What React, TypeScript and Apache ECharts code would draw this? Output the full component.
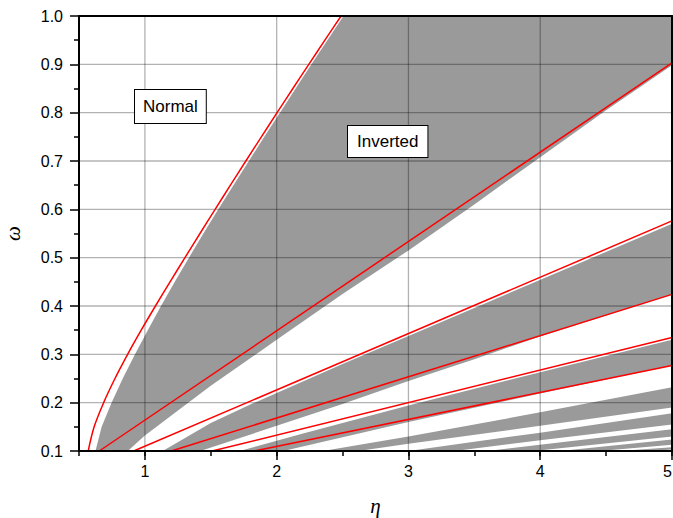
import React, { useEffect, useRef } from "react";
import * as echarts from "echarts";

// Axis ranges and ticks
const X_MIN = 0.5;
const X_MAX = 5;
const Y_MIN = 0.1;
const Y_MAX = 1.0;
const xMajorTicks = [1, 2, 3, 4, 5];
const xGridValues = [1, 2, 3, 4];
const yGridValues = [0.2, 0.3, 0.4, 0.5, 0.6, 0.7, 0.8, 0.9];

// Red boundary curves [eta, omega]
const redCurve1 = [
  [0.57, 0.1], [0.615, 0.15], [0.687, 0.2], [0.773, 0.25], [0.869, 0.3], [0.972, 0.35],
  [1.08, 0.4], [1.191, 0.45], [1.304, 0.5], [1.418, 0.55], [1.533, 0.6], [1.649, 0.65],
  [1.766, 0.7], [1.884, 0.75], [2.003, 0.8], [2.123, 0.85], [2.244, 0.9], [2.366, 0.95], [2.489, 1.0],
];
const redLine2 = [[0.654, 0.1], [5, 0.903]];
const redLine3 = [[0.915, 0.1], [5, 0.576]];
const redLine4 = [[1.2, 0.1], [5, 0.424]];
const redLine5 = [[1.51, 0.1], [5, 0.335]];
const redLine6 = [[1.83, 0.1], [5, 0.277]];

// Gray (inverted-stable) bands: upper edge and lower edge
const band1Upper = [
  [0.625, 0.1], [0.672, 0.15], [0.747, 0.2], [0.832, 0.25], [0.925, 0.3], [1.022, 0.35],
  [1.122, 0.4], [1.227, 0.45], [1.334, 0.5], [1.444, 0.55], [1.557, 0.6], [1.672, 0.65],
  [1.789, 0.7], [1.906, 0.75], [2.025, 0.8], [2.144, 0.85], [2.264, 0.9], [2.385, 0.95],
  [2.507, 1.0], [5, 1.0],
];
const band1Lower = [
  [0.87, 0.1], [1.0, 0.132], [1.5, 0.235], [2.0, 0.33], [2.5, 0.425], [3.0, 0.515],
  [3.5, 0.61], [4.0, 0.708], [4.5, 0.805], [5, 0.898],
];
const band2Upper = [[1.135, 0.1], [1.5, 0.158], [1.8, 0.196], [2.5, 0.28], [3.5, 0.396], [5, 0.57]];
const band2Lower = [[1.42, 0.1], [2.0, 0.152], [2.5, 0.197], [3.0, 0.245], [3.5, 0.29], [4.0, 0.337], [5, 0.424]];
const band3Upper = [[1.72, 0.1], [2.2, 0.136], [3.0, 0.194], [4.0, 0.263], [5, 0.33]];
const band3Lower = [[2.05, 0.1], [3.0, 0.16], [4.0, 0.219], [5, 0.277]];
const band4Upper = [[2.35, 0.1], [3.0, 0.13], [4.0, 0.18], [5, 0.232]];
const band4Lower = [[2.62, 0.1], [3.0, 0.115], [4.0, 0.152], [5, 0.19]];
const band5Upper = [[3.0, 0.1], [4.0, 0.138], [5, 0.178]];
const band5Lower = [[3.35, 0.1], [4.0, 0.122], [5, 0.155]];
const band6Upper = [[3.6, 0.1], [5, 0.145]];
const band6Lower = [[3.95, 0.1], [5, 0.13]];
const band7Upper = [[4.15, 0.1], [5, 0.124]];
const band7Lower = [[4.45, 0.1], [5, 0.113]];
const band8Upper = [[4.6, 0.1], [5, 0.108]];
const band8Lower = [[4.85, 0.1], [5, 0.103]];

const bandEdges = [
  [band1Upper, band1Lower],
  [band2Upper, band2Lower],
  [band3Upper, band3Lower],
  [band4Upper, band4Lower],
  [band5Upper, band5Lower],
  [band6Upper, band6Lower],
  [band7Upper, band7Lower],
  [band8Upper, band8Lower],
];
const redCurves = [redCurve1, redLine2, redLine3, redLine4, redLine5, redLine6];

const SANS = '"Liberation Sans", Arial, sans-serif';
const SERIF = '"Liberation Serif", "Times New Roman", serif';

export default function App() {
  const ref = useRef<HTMLDivElement>(null);
  useEffect(() => {
    const chart = echarts.init(ref.current!, null, { renderer: "svg" });
    const polys = bandEdges.map(([u, l]) => [...u, ...l.slice().reverse()]);

    const gridStroke = "rgba(0,0,0,0.3)";
    const option: any = {
      animation: false,
      backgroundColor: "#fff",
      grid: { left: 79, right: 1, top: 16, bottom: 67, containLabel: false, outerBoundsMode: "none" },
      xAxis: [
        {
          type: "value",
          position: "bottom",
          min: X_MIN,
          max: X_MAX,
          interval: 0.5,
          z: 5,
          name: "η",
          nameLocation: "middle",
          nameGap: 44,
          nameTextStyle: { fontFamily: SERIF, fontStyle: "italic", fontSize: 21, color: "#000" },
          axisLine: { show: true, onZero: false, lineStyle: { color: "#000", width: 2 } },
          axisTick: { show: true, inside: false, length: 5, lineStyle: { color: "#000", width: 1.5 } },
          axisLabel: {
            show: true,
            margin: 12,
            fontFamily: SANS,
            fontSize: 16,
            color: "#000",
            alignMaxLabel: "right",
            formatter: (v: number) => (Math.abs(v - Math.round(v)) < 1e-6 ? String(Math.round(v)) : ""),
          },
          splitLine: { show: false },
        },
        {
          type: "value",
          position: "bottom",
          min: X_MIN,
          max: X_MAX,
          interval: 0.5,
          z: 5,
          axisLine: { show: false, onZero: false },
          axisTick: { show: true, inside: false, length: 9, customValues: xMajorTicks, lineStyle: { color: "#000", width: 1.5 } },
          axisLabel: { show: false },
          splitLine: { show: false },
        },
        {
          type: "value",
          position: "top",
          min: X_MIN,
          max: X_MAX,
          z: 5,
          axisLine: { show: true, onZero: false, lineStyle: { color: "#000", width: 2 } },
          axisTick: { show: false },
          axisLabel: { show: false },
          splitLine: { show: false },
        },
      ],
      yAxis: [
        {
          type: "value",
          position: "left",
          min: Y_MIN,
          max: Y_MAX,
          interval: 0.1,
          z: 5,
          name: "ω",
          nameLocation: "middle",
          nameGap: 56,
          nameRotate: 90,
          nameTextStyle: { fontFamily: SERIF, fontStyle: "italic", fontSize: 21, color: "#000" },
          axisLine: { show: true, onZero: false, lineStyle: { color: "#000", width: 2 } },
          axisTick: { show: true, inside: false, length: 9, lineStyle: { color: "#000", width: 1.5 } },
          minorTick: { show: true, splitNumber: 2, length: 5, lineStyle: { color: "#000", width: 1.5 } },
          axisLabel: {
            show: true,
            margin: 16,
            fontFamily: SANS,
            fontSize: 16,
            color: "#000",
            formatter: (v: number) => v.toFixed(1),
          },
          splitLine: { show: false },
        },
        {
          type: "value",
          position: "right",
          min: Y_MIN,
          max: Y_MAX,
          z: 5,
          axisLine: { show: true, onZero: false, lineStyle: { color: "#000", width: 2 } },
          axisTick: { show: false },
          axisLabel: { show: false },
          splitLine: { show: false },
        },
      ],
      series: [
        {
          type: "custom",
          name: "bands",
          xAxisIndex: 0,
          yAxisIndex: 0,
          z: 2,
          clip: true,
          data: polys.map((p) => p[0]),
          renderItem: (params: any, api: any) => {
            const poly = polys[params.dataIndex];
            const pts = poly.map((p) => api.coord(p));
            return { type: "polygon", shape: { points: pts, smooth: 0 }, style: { fill: "#9a9a9a", stroke: null } };
          },
        },
        {
          type: "custom",
          name: "vgrid",
          xAxisIndex: 0,
          yAxisIndex: 0,
          z: 3,
          data: xGridValues.map((v) => [v, Y_MIN]),
          renderItem: (params: any, api: any) => {
            const x = api.value(0);
            const a = api.coord([x, Y_MIN]);
            const b = api.coord([x, Y_MAX]);
            return { type: "line", shape: { x1: a[0], y1: a[1], x2: b[0], y2: b[1] }, style: { stroke: gridStroke, lineWidth: 1.3 } };
          },
        },
        {
          type: "custom",
          name: "hgrid",
          xAxisIndex: 0,
          yAxisIndex: 0,
          z: 3,
          data: yGridValues.map((v) => [X_MIN, v]),
          renderItem: (params: any, api: any) => {
            const y = api.value(1);
            const a = api.coord([X_MIN, y]);
            const b = api.coord([X_MAX, y]);
            return { type: "line", shape: { x1: a[0], y1: a[1], x2: b[0], y2: b[1] }, style: { stroke: gridStroke, lineWidth: 1.3 } };
          },
        },
        ...redCurves.map((c, i) => ({
          type: "line",
          name: "red" + i,
          xAxisIndex: 0,
          yAxisIndex: 0,
          z: 4,
          data: c,
          showSymbol: false,
          symbol: "none",
          smooth: i === 0 ? 0.35 : false,
          clip: true,
          lineStyle: { color: "#ff0000", width: 1.5 },
        })),
      ],
      graphic: [
        {
          type: "text",
          left: 134,
          top: 89,
          z: 100,
          style: {
            text: "Normal",
            font: '17px "Liberation Sans", Arial, sans-serif',
            fill: "#000",
            backgroundColor: "#fff",
            borderColor: "#000",
            borderWidth: 1,
            padding: [8, 8, 8, 8],
          },
        },
        {
          type: "text",
          left: 347,
          top: 125,
          z: 100,
          style: {
            text: "Inverted",
            font: '17px "Liberation Sans", Arial, sans-serif',
            fill: "#000",
            backgroundColor: "#fff",
            borderColor: "#000",
            borderWidth: 1,
            padding: [7, 9, 7, 9],
          },
        },
      ],
    };
    chart.setOption(option);
    return () => chart.dispose();
  }, []);
  return <div ref={ref} style={{ position: "absolute", left: 0, top: 0, width: 673, height: 518 }} />;
}
